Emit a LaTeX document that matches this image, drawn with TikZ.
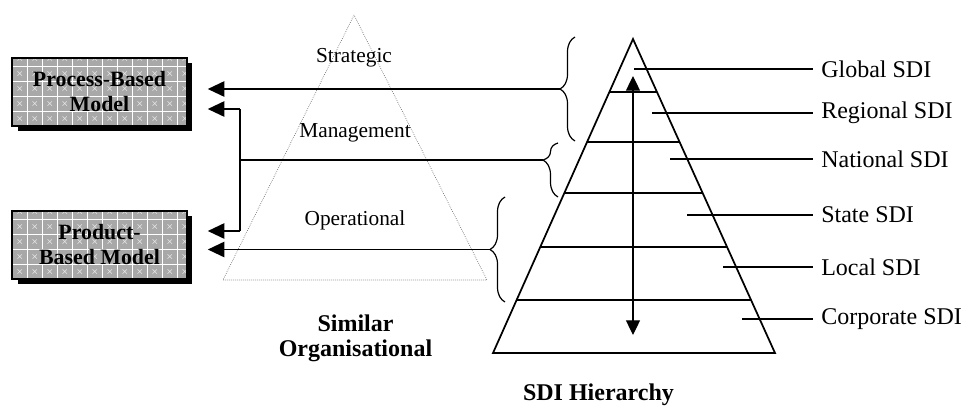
\documentclass[tikz,border=0pt]{standalone}
\usepackage{fontspec}
\setmainfont{Liberation Serif}
\usetikzlibrary{arrows.meta,decorations.pathreplacing,calc,shadows}

\definecolor{boxgray}{RGB}{168,168,168}

\begin{document}
\begin{tikzpicture}[
        x=0.75pt, y=-0.75pt, % one unit = one pixel
        model/.style={draw=black, line width=1.4pt, fill=boxgray, minimum width=131pt, minimum height=51pt,
                inner sep=0pt, align=center, font=\fontsize{16.4}{18.75}\selectfont\bfseries,
                drop shadow={shadow xshift=4pt, shadow yshift=-4pt, opacity=1, fill=black},
                path picture={
                        \foreach \k in {1,...,11}
                        \draw[white, line width=0.7pt]
                        ([xshift=\k*11.25pt]path picture bounding box.south west) --
                        ([xshift=\k*11.25pt]path picture bounding box.north west);
                        \foreach \k in {1,...,4}
                        \draw[white, line width=0.7pt]
                        ([yshift=\k*11.25pt]path picture bounding box.south west) --
                        ([yshift=\k*11.25pt]path picture bounding box.south east);
                        \foreach \k in {0,...,11}
                        \foreach \j in {0,...,4}
                        \draw[white!70!boxgray, line width=0.4pt]
                        ([shift={(\k*11.25pt+4pt,\j*11.25pt+4pt)}]path picture bounding box.south west) -- ++(3.25pt,3.25pt)
                        ([shift={(\k*11.25pt+4pt,\j*11.25pt+7.25pt)}]path picture bounding box.south west) -- ++(3.25pt,-3.25pt);
                    }},
        feed/.style={line width=1.4pt, -{Triangle[length=12.5pt, width=11.5pt]}, shorten >=15pt},
        trunk/.style={line width=1.4pt},
        brc/.style={decorate, decoration={brace, amplitude=11.25pt}, line width=0.9pt},
        pyr/.style={line width=1.3pt},
        tick/.style={line width=0.9pt},
        lvl/.style={anchor=west, inner xsep=6pt, font=\fontsize{18}{20}\selectfont},
        layer/.style={font=\fontsize{16}{18}\selectfont},
        title/.style={align=center, font=\fontsize{18}{18.75}\selectfont\bfseries},
    ]

    \useasboundingbox (0,0) rectangle (968,411);

    % models
    \node[model] (process) at (99.5,92) {Process-Based\\Model};
    \node[model] (product) at (99.5,245) {Product-\\Based Model};

    % organisational triangle
    \draw[gray!80!black, densely dotted, line width=0.5pt] (354,15) -- (223,280) -- (487,280) -- cycle;
    \node[layer] (strat) at (354,58) {Strategic};
    \node[layer] (mgmt) at (355,133) {Management};
    \node[layer] (oper) at (355,220) {Operational};
    \node[title] (similar) at (355.5,338) {Similar\\Organisational};

    % SDI pyramid
    \coordinate (top) at (633,39);
    \coordinate (bl) at (493,353);
    \coordinate (br) at (775,353);
    \draw[pyr] (top) -- (bl) -- (br) -- cycle;
    \foreach \t in {0.169,0.328,0.490,0.662,0.831}
    \draw[pyr] ($(top)!\t!(bl)$) -- ($(top)!\t!(br)$);
    \coordinate (up) at (633,76);
    \coordinate (down) at (633,335);
    \draw[line width=0.9pt, {Triangle[length=11pt, width=10.5pt]}-{Triangle[length=11pt, width=10.5pt]}] (up) -- (down);
    \node[title] (sdi) at (598.5,395) {SDI Hierarchy};

    % levels
    \node[lvl] (global) at (813,69) {Global SDI};
    \node[lvl] (regional) at (813,113) {Regional SDI};
    \node[lvl] (national) at (813,159) {National SDI};
    \node[lvl] (state) at (813,215) {State SDI};
    \node[lvl] (local) at (813,267) {Local SDI};
    \node[lvl] (corporate) at (813,319) {Corporate SDI};
    \draw[tick] (634,69) -- (global.west);
    \draw[tick] (652,113) -- (regional.west);
    \draw[tick] (670,159) -- (national.west);
    \draw[tick] (687,215) -- (state.west);
    \draw[tick] (723,267) -- (local.west);
    \draw[tick] (742,319) -- (corporate.west);

    % braces
    \draw[brc] (575,141) -- (575,37);
    \coordinate (tip1) at (560,89);
    \draw[brc, decoration={aspect=0.685}] (558,197) -- (558,143);
    \coordinate (tip2) at (543,160);
    \draw[brc] (505,302) -- (505,197);
    \coordinate (tip3) at (490,249.5);

    % links
    \coordinate (j1) at (240,109);
    \coordinate (j2) at (240,160);
    \coordinate (j3) at (240,231);
    \draw[feed] (tip1) -- (tip1 -| process.east);
    \draw[feed] (j1) -- (j1 -| process.east);
    \draw[trunk] (j1) -- (j3);
    \draw[trunk] (j2) -- (tip2);
    \draw[feed] (j3) -- (j3 -| product.east);
    \draw[feed] (tip3) -- (tip3 -| product.east);
\end{tikzpicture}
\end{document}
